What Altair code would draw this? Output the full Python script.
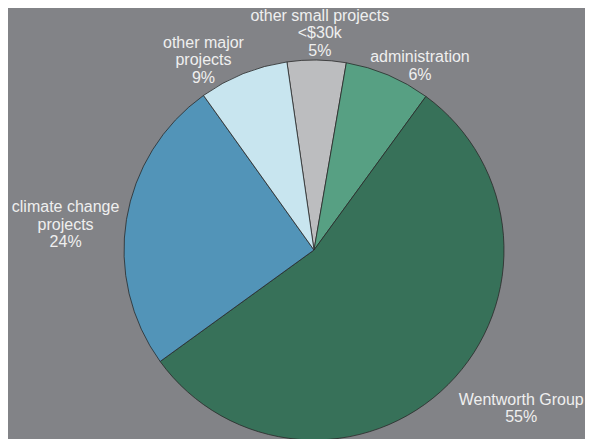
import math
import altair as alt
import pandas as pd

categories = ["other small projects", "administration", "Wentworth Group",
              "climate change projects", "other major projects"]
shares = [5.0, 7.3, 55.0, 25.1, 7.6]
label_texts = ["other small projects\n<$30k\n5%", "administration\n6%",
               "Wentworth Group\n55%", "climate change\nprojects\n24%",
               "other major\nprojects\n9%"]
colors = ["#bcbdbf", "#57a083", "#377159", "#5294b8", "#c8e5ef"]

df = pd.DataFrame({"category": categories, "share": shares,
                   "label": label_texts, "idx": list(range(len(categories)))})

start = math.radians(-8.2)
theta_scale = alt.Scale(domain=[0, 100], range=[start, start + 2 * math.pi])
CX, CY = 306, 242

base = alt.Chart(df)
pie = base.mark_arc(stroke="#2a2a2a", strokeWidth=0.8, outerRadius=190).encode(
    theta=alt.Theta("share:Q", stack=True, scale=theta_scale),
    color=alt.Color("category:N", scale=alt.Scale(domain=categories, range=colors), legend=None),
    order=alt.Order("idx:Q"),
    x=alt.value(CX), y=alt.value(CY),
)

lab = base.transform_window(
    cum="sum(share)", sort=[alt.SortField("idx")], frame=[None, 0]
).transform_calculate(mid="datum.cum - datum.share / 2")

offsets = [(3, -34.5), (28, -8.75), (66, 8.25), (-51, -10.5), (-36, -21.5)]
layers = [pie]
for cat, (dx, dy) in zip(categories, offsets):
    layers.append(
        lab.transform_filter(alt.datum.category == cat).mark_text(
            radius=200, dx=dx, dy=dy, lineBreak="\n", font="Liberation Sans",
            fontSize=16, color="#efefef", align="center", baseline="middle",
            lineHeight=17.5,
        ).encode(
            theta=alt.Theta("mid:Q", scale=theta_scale, stack=None),
            text="label:N",
            x=alt.value(CX), y=alt.value(CY),
        )
    )

chart = alt.layer(*layers).properties(
    width=577, height=431, autosize=alt.AutoSizeParams(type="none"), padding=0,
    background="#828387",
).configure_view(stroke=None)

chart.save("out.html", embed_options={"renderer": "svg", "actions": False})
